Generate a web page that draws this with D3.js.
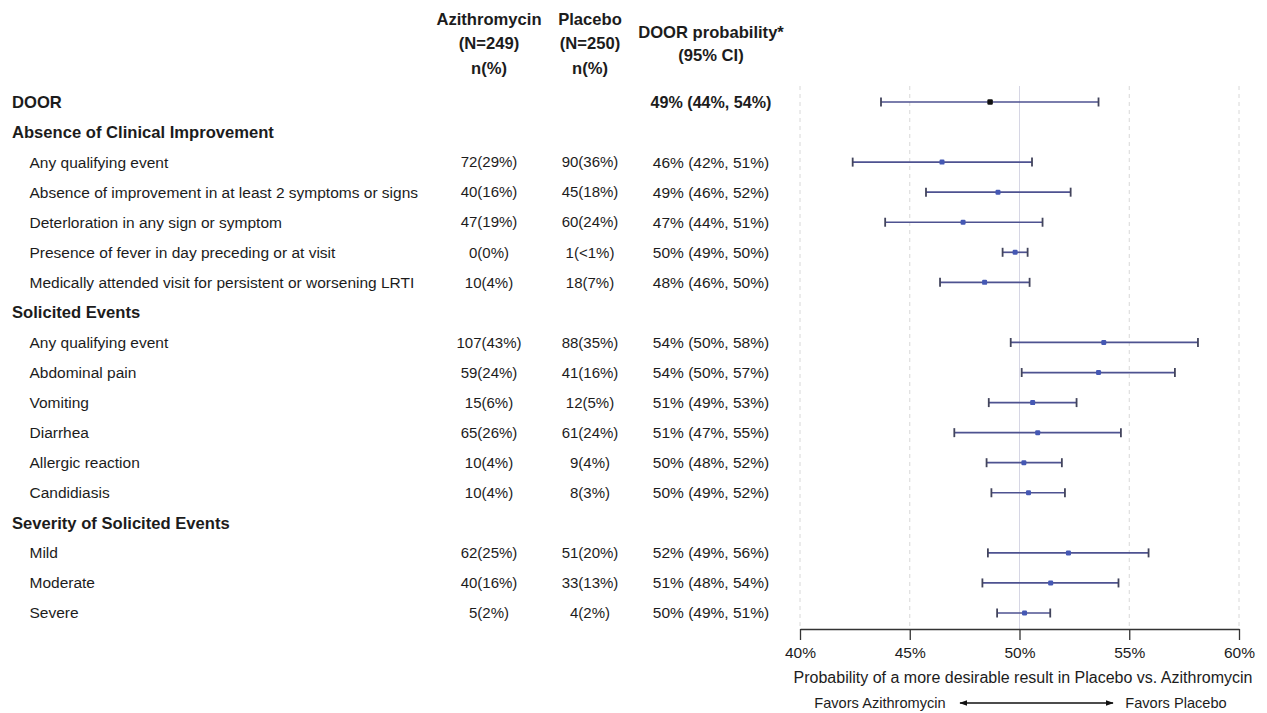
<!DOCTYPE html>
<html>
<head>
<meta charset="utf-8">
<script src="https://cdn.jsdelivr.net/npm/d3@7"></script>
<style>
  html, body { margin: 0; padding: 0; background: #fff; }
  svg { display: block; font-family: "Liberation Sans", Arial, sans-serif; }
</style>
</head>
<body>
<svg id="chart" width="1267" height="713"></svg>
<script>
// ---- data ----
const labels = [
  "DOOR",
  "Absence of Clinical Improvement",
  "Any qualifying event",
  "Absence of improvement in at least 2 symptoms or signs",
  "Deterloration in any sign or symptom",
  "Presence of fever in day preceding or at visit",
  "Medically attended visit for persistent or worsening LRTI",
  "Solicited Events",
  "Any qualifying event",
  "Abdominal pain",
  "Vomiting",
  "Diarrhea",
  "Allergic reaction",
  "Candidiasis",
  "Severity of Solicited Events",
  "Mild",
  "Moderate",
  "Severe"
];
const rowTypes = ["door","header","item","item","item","item","item","header","item","item","item","item","item","item","header","item","item","item"];
const aziCounts = ["", "", "72(29%)", "40(16%)", "47(19%)", "0(0%)", "10(4%)", "", "107(43%)", "59(24%)", "15(6%)", "65(26%)", "10(4%)", "10(4%)", "", "62(25%)", "40(16%)", "5(2%)"];
const plaCounts = ["", "", "90(36%)", "45(18%)", "60(24%)", "1(<1%)", "18(7%)", "", "88(35%)", "41(16%)", "12(5%)", "61(24%)", "9(4%)", "8(3%)", "", "51(20%)", "33(13%)", "4(2%)"];
const probTexts = ["49% (44%, 54%)", "", "46% (42%, 51%)", "49% (46%, 52%)", "47% (44%, 51%)", "50% (49%, 50%)", "48% (46%, 50%)", "", "54% (50%, 58%)", "54% (50%, 57%)", "51% (49%, 53%)", "51% (47%, 55%)", "50% (48%, 52%)", "50% (49%, 52%)", "", "52% (49%, 56%)", "51% (48%, 54%)", "50% (49%, 51%)"];
const estimates = [48.66, null, 46.47, 49.02, 47.43, 49.80, 48.41, null, 53.84, 53.60, 50.60, 50.83, 50.20, 50.41, null, 52.23, 51.42, 50.23];
const lowers    = [43.69, null, 42.40, 45.74, 43.88, 49.23, 46.38, null, 49.60, 50.10, 48.60, 47.03, 48.50, 48.72, null, 48.56, 48.31, 48.98];
const uppers    = [53.60, null, 50.57, 52.33, 51.05, 50.37, 50.46, null, 58.13, 57.08, 52.60, 54.62, 51.93, 52.07, null, 55.88, 54.51, 51.40];
const xTicks = [40, 45, 50, 55, 60];
const colHeaderAzi = ["Azithromycin", "(N=249)", "n(%)"];
const colHeaderPla = ["Placebo", "(N=250)", "n(%)"];
const colHeaderProb = ["DOOR probability*", "(95% CI)"];
const axisTitle = "Probability of a more desirable result in Placebo vs. Azithromycin";
const favorsLeft = "Favors Azithromycin";
const favorsRight = "Favors Placebo";

// ---- layout ----
const svg = d3.select("#chart");
const textColor = "#1c1c1c";
const fsBody = 15.5;
const fsHead = 16.6;

const x = d3.scaleLinear().domain([40, 60]).range([800, 1239]);
const y = d3.scalePoint().domain(d3.range(labels.length)).range([102, 613]);
const axisY = 629;
const gridTop = 86;

const colAzi = 489, colPla = 590, colProb = 711;

// header
const hdr = svg.append("g").attr("font-weight", "bold").attr("font-size", fsHead).attr("fill", textColor).attr("text-anchor", "middle");
colHeaderAzi.forEach((t, i) => hdr.append("text").attr("x", colAzi).attr("y", 19 + i * 24.5).attr("dy", "0.35em").text(t));
colHeaderPla.forEach((t, i) => hdr.append("text").attr("x", colPla).attr("y", 19 + i * 24.5).attr("dy", "0.35em").text(t));
colHeaderProb.forEach((t, i) => hdr.append("text").attr("x", colProb).attr("y", 32 + i * 23).attr("dy", "0.35em").text(t));

// gridlines
const grid = svg.append("g");
xTicks.forEach(t => {
  grid.append("line")
    .attr("x1", x(t)).attr("x2", x(t))
    .attr("y1", gridTop).attr("y2", axisY)
    .attr("stroke", t === 50 ? "#d6d6e4" : "#d8d8d8")
    .attr("stroke-width", 1)
    .attr("stroke-dasharray", t === 50 ? null : "4,4");
});

// table rows
const rowsG = svg.append("g").attr("fill", textColor);
labels.forEach((lab, i) => {
  const t = rowTypes[i];
  const bold = t !== "item";
  rowsG.append("text")
    .attr("x", t === "item" ? 29.5 : 12)
    .attr("y", y(i)).attr("dy", "0.35em")
    .attr("font-weight", bold ? "bold" : "normal")
    .attr("font-size", bold ? fsHead : fsBody)
    .text(lab);
  if (aziCounts[i]) rowsG.append("text").attr("x", colAzi).attr("y", y(i)).attr("dy", "0.35em").attr("text-anchor", "middle").attr("font-size", fsBody - 0.5).text(aziCounts[i]);
  if (plaCounts[i]) rowsG.append("text").attr("x", colPla).attr("y", y(i)).attr("dy", "0.35em").attr("text-anchor", "middle").attr("font-size", fsBody - 0.5).text(plaCounts[i]);
  if (probTexts[i]) rowsG.append("text").attr("x", colProb).attr("y", y(i)).attr("dy", "0.35em").attr("text-anchor", "middle")
      .attr("font-weight", t === "door" ? "bold" : "normal")
      .attr("font-size", t === "door" ? 16.1 : fsBody)
      .text(probTexts[i]);
});

// error bars
const bars = svg.append("g");
labels.forEach((lab, i) => {
  if (estimates[i] == null) return;
  const yy = y(i);
  const g = bars.append("g");
  g.append("line").attr("x1", x(lowers[i])).attr("x2", x(uppers[i])).attr("y1", yy).attr("y2", yy)
    .attr("stroke", "#4e5290").attr("stroke-width", 1.7);
  [lowers[i], uppers[i]].forEach(v => {
    g.append("line").attr("x1", x(v)).attr("x2", x(v)).attr("y1", yy - 4.5).attr("y2", yy + 4.5)
      .attr("stroke", "#42445c").attr("stroke-width", 1.8);
  });
  const s = rowTypes[i] === "door" ? 5.5 : 5;
  g.append("rect").attr("x", x(estimates[i]) - s / 2).attr("y", yy - s / 2).attr("width", s).attr("height", s)
    .attr("rx", 1.2)
    .attr("fill", rowTypes[i] === "door" ? "#111" : "#4558b4");
});

// axis
const axis = d3.axisBottom(x).tickValues(xTicks).tickFormat(d => d + "%").tickSize(11).tickSizeOuter(0);
const ax = svg.append("g").attr("transform", `translate(0,${axisY})`).call(axis);
ax.select(".domain").attr("stroke", "#333").attr("stroke-width", 1.3);
ax.selectAll(".tick line").attr("stroke", "#333").attr("stroke-width", 1.3);
ax.selectAll(".tick text").attr("font-size", 15.5).attr("fill", textColor)
  .attr("font-family", '"Liberation Sans", Arial, sans-serif').attr("y", 24).attr("dy", "0.35em");

svg.append("text").attr("x", 1023).attr("y", 677).attr("dy", "0.35em").attr("text-anchor", "middle")
  .attr("font-size", 16).attr("fill", textColor).text(axisTitle);

// favors
svg.append("text").attr("x", 880).attr("y", 703).attr("dy", "0.35em").attr("text-anchor", "middle")
  .attr("font-size", 14.6).attr("fill", textColor).text(favorsLeft);
svg.append("text").attr("x", 1176).attr("y", 703).attr("dy", "0.35em").attr("text-anchor", "middle")
  .attr("font-size", 14.6).attr("fill", textColor).text(favorsRight);

const defs = svg.append("defs");
defs.append("marker").attr("id", "arr").attr("viewBox", "0 0 10 10").attr("refX", 9).attr("refY", 5)
  .attr("markerWidth", 6).attr("markerHeight", 6).attr("orient", "auto-start-reverse")
  .append("path").attr("d", "M0,1.5 L10,5 L0,8.5 Z").attr("fill", "#111");
svg.append("line").attr("x1", 960).attr("x2", 1113).attr("y1", 703).attr("y2", 703)
  .attr("stroke", "#111").attr("stroke-width", 1.3)
  .attr("marker-start", "url(#arr)").attr("marker-end", "url(#arr)");
</script>
</body>
</html>
